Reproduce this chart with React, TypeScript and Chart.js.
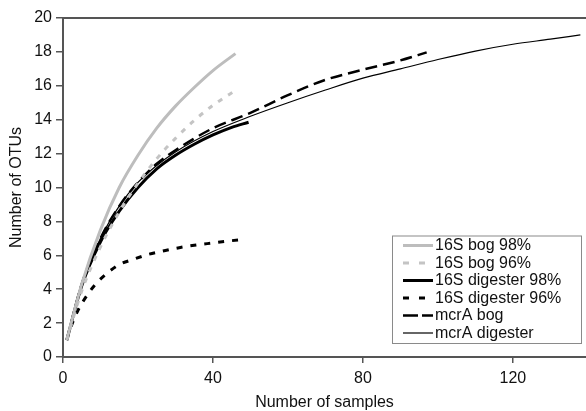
import React, { useEffect, useRef } from "react";
import { Chart, registerables } from "chart.js";

Chart.register(...registerables);

// ---- Data ----
const seriesLabels = [
  "16S bog 98%",
  "16S bog 96%",
  "16S digester 98%",
  "16S digester 96%",
  "mcrA bog",
  "mcrA digester",
];

const bog98X = [1, 5, 10, 15, 20, 25, 30, 35, 40, 46];
const bog98Y = [1, 4.3, 7.5, 10.0, 11.9, 13.5, 14.8, 15.9, 16.9, 17.9];

const bog96X = [1, 5, 10, 15, 20, 25, 30, 35, 40, 46.5];
const bog96Y = [1, 3.9, 6.5, 8.55, 10.25, 11.7, 12.9, 13.95, 14.85, 15.8];

const dig98X = [1, 5, 10, 15, 20, 25, 30, 35, 40, 45, 49.5];
const dig98Y = [1, 4.2, 6.8, 8.6, 10.0, 11.1, 11.9, 12.55, 13.1, 13.55, 13.85];

const dig96X = [1, 2.5, 4, 6, 8.5, 11.5, 15, 19, 23, 27, 31, 35, 40, 44, 48];
const dig96Y = [1, 2.0, 2.75, 3.5, 4.25, 4.9, 5.45, 5.78, 6.07, 6.27, 6.45, 6.59, 6.73, 6.84, 6.93];

const mcrBogX = [1, 5, 10, 15, 20, 25, 30, 40, 50, 60, 70, 80, 90, 97];
const mcrBogY = [1, 4.3, 7.0, 8.9, 10.3, 11.4, 12.2, 13.5, 14.4, 15.45, 16.35, 16.95, 17.5, 17.97];

const mcrDigX = [1, 5, 10, 15, 20, 25, 30, 40, 50, 60, 70, 80, 90, 100, 110, 120, 130, 138];
const mcrDigY = [1, 4.3, 7.0, 8.9, 10.3, 11.3, 12.1, 13.3, 14.2, 15.0, 15.75, 16.45, 17.0, 17.55, 18.05, 18.45, 18.75, 19.0];

const xTicks = [0, 40, 80, 120];
const yTicks = [0, 2, 4, 6, 8, 10, 12, 14, 16, 18, 20];

const xTitle = "Number of samples";
const yTitle = "Number of OTUs";

const FONT = "'Liberation Sans', Arial, Helvetica, sans-serif";
const AXIS = "#555555";
const TEXT = "#111111";

function pts(xs: number[], ys: number[]) {
  return xs.map((x, i) => ({ x, y: ys[i] }));
}

const framePlugin = {
  id: "frameTop",
  afterDatasetsDraw(chart: any) {
    const { ctx, chartArea } = chart;
    ctx.save();
    ctx.strokeStyle = AXIS;
    ctx.lineWidth = 2;
    ctx.beginPath();
    ctx.moveTo(chartArea.left, chartArea.top);
    ctx.lineTo(chartArea.right, chartArea.top);
    ctx.stroke();
    ctx.restore();
  },
};

const boxLegendPlugin = {
  id: "boxLegend",
  afterDraw(chart: any) {
    const { ctx, chartArea } = chart;
    const boxRight = chartArea.right - 5;
    const boxLeft = boxRight - 189;
    const boxBottom = chartArea.bottom - 14;
    const rowH = 17.5;
    const n = chart.data.datasets.length;
    const boxTop = boxBottom - (n - 1) * rowH - 20;
    ctx.save();
    ctx.fillStyle = "#ffffff";
    ctx.fillRect(boxLeft, boxTop, boxRight - boxLeft, boxBottom - boxTop);
    ctx.strokeStyle = "#8a8a8a";
    ctx.lineWidth = 1;
    ctx.strokeRect(boxLeft + 0.5, boxTop + 0.5, boxRight - boxLeft, boxBottom - boxTop);
    chart.data.datasets.forEach((ds: any, i: number) => {
      const cy = boxTop + 10 + i * rowH;
      ctx.save();
      ctx.strokeStyle = ds.borderColor;
      ctx.lineWidth = ds.borderWidth;
      ctx.setLineDash(ds.legendDash || []);
      ctx.lineCap = "butt";
      ctx.beginPath();
      ctx.moveTo(boxLeft + 11, cy);
      ctx.lineTo(boxLeft + 41, cy);
      ctx.stroke();
      ctx.restore();
      ctx.fillStyle = TEXT;
      ctx.font = `16px ${FONT}`;
      ctx.textBaseline = "middle";
      ctx.textAlign = "left";
      ctx.fillText(ds.label, boxLeft + 43, cy + 0.5);
    });
    ctx.restore();
  },
};

export default function App() {
  const ref = useRef<HTMLCanvasElement>(null);

  useEffect(() => {
    document.body.style.margin = "0";
    const canvas = ref.current;
    if (!canvas) return;
    const common = {
      pointRadius: 0,
      pointHoverRadius: 0,
      fill: false,
      cubicInterpolationMode: "monotone" as const,
      borderCapStyle: "butt" as const,
    };
    const chart = new Chart(canvas, {
      type: "line",
      data: {
        datasets: [
          { ...common, label: seriesLabels[0], data: pts(bog98X, bog98Y), borderColor: "#bdbdbd", borderWidth: 3 },
          { ...common, label: seriesLabels[1], data: pts(bog96X, bog96Y), borderColor: "#c4c4c4", borderWidth: 3, borderDash: [5, 7], legendDash: [6, 10] },
          { ...common, label: seriesLabels[2], data: pts(dig98X, dig98Y), borderColor: "#000000", borderWidth: 3 },
          { ...common, label: seriesLabels[3], data: pts(dig96X, dig96Y), borderColor: "#000000", borderWidth: 3, borderDash: [6, 8], legendDash: [6, 10] },
          { ...common, label: seriesLabels[4], data: pts(mcrBogX, mcrBogY), borderColor: "#000000", borderWidth: 2.5, borderDash: [12, 6], legendDash: [15, 4] },
          { ...common, label: seriesLabels[5], data: pts(mcrDigX, mcrDigY), borderColor: "#000000", borderWidth: 1.2 },
        ] as any,
      },
      options: {
        responsive: false,
        devicePixelRatio: 1,
        animation: false,
        events: [],
        layout: { padding: { top: 18, left: 0, right: 0, bottom: 0 } },
        plugins: {
          legend: { display: false },
          tooltip: { enabled: false },
        },
        scales: {
          x: {
            type: "linear",
            min: 0,
            max: 139.5,
            afterBuildTicks: (s: any) => {
              s.ticks = xTicks.map((v) => ({ value: v }));
            },
            afterFit: (s: any) => {
              s.height = 54;
            },
            ticks: {
              font: { family: FONT, size: 16 },
              color: TEXT,
              padding: 6,
              maxRotation: 0,
              autoSkip: false,
            },
            grid: { drawOnChartArea: false, drawTicks: true, tickLength: 6, color: AXIS, lineWidth: 1.5 },
            border: { display: true, color: AXIS, width: 2 },
            title: {
              display: true,
              text: xTitle,
              color: TEXT,
              font: { family: FONT, size: 16, lineHeight: 1 },
              padding: { top: 0, bottom: 0 },
            },
          },
          y: {
            type: "linear",
            min: 0,
            max: 20,
            afterBuildTicks: (s: any) => {
              s.ticks = yTicks.map((v) => ({ value: v }));
            },
            afterFit: (s: any) => {
              s.width = 63;
            },
            ticks: {
              font: { family: FONT, size: 16 },
              color: TEXT,
              padding: 4,
              autoSkip: false,
            },
            grid: { drawOnChartArea: false, drawTicks: true, tickLength: 7, color: AXIS, lineWidth: 1.5 },
            border: { display: true, color: AXIS, width: 2 },
            title: {
              display: true,
              text: yTitle,
              color: TEXT,
              font: { family: FONT, size: 16, lineHeight: 1 },
              padding: { top: 9, bottom: 0 },
            },
          },
        },
      },
      plugins: [framePlugin, boxLegendPlugin],
    });
    return () => chart.destroy();
  }, []);

  return (
    <div style={{ position: "absolute", left: 0, top: 0, width: 586, height: 411, background: "#ffffff" }}>
      <canvas ref={ref} width={586} height={411} style={{ display: "block", width: 586, height: 411 }} />
    </div>
  );
}
